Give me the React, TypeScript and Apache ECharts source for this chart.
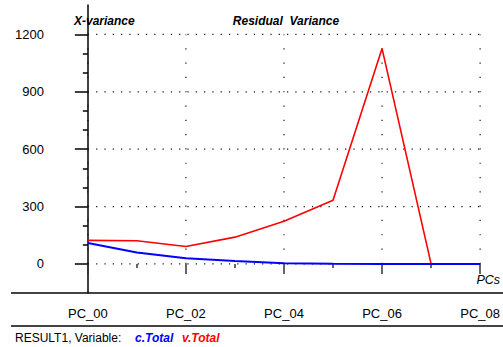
import React, { useEffect, useRef } from "react";
import * as echarts from "echarts";

const categories = ["PC_00", "PC_01", "PC_02", "PC_03", "PC_04", "PC_05", "PC_06", "PC_07", "PC_08"];
const cTotal = [109, 60, 30, 15, 4, 1, 0, 0, 0];
const vTotal = [123, 121, 91, 140, 223, 333, 1126, 0, 0];
const yMajorTicks = [0, 300, 600, 900, 1200];
const yMinorTicks = [100, 200, 400, 500, 700, 800, 1000, 1100];
const xMajorIdx = [0, 2, 4, 6, 8];
const xMinorIdx = [1, 3, 5, 7];

const FONT = "'Liberation Sans', Arial, sans-serif";

export default function App() {
  const ref = useRef<HTMLDivElement>(null);
  useEffect(() => {
    if (!ref.current) return;
    const chart = echarts.init(ref.current, null, { renderer: "svg" });
    const last = categories.length - 1;
    const gridSeries: any[] = [];
    yMajorTicks.forEach((v) => {
      gridSeries.push({
        type: "line", silent: true, symbol: "none", z: 1,
        data: [[0, v], [last, v]],
        lineStyle: { color: "#111", width: 1.2, type: [1.2, 7.1] },
      });
    });
    xMajorIdx.forEach((i) => {
      gridSeries.push({
        type: "line", silent: true, symbol: "none", z: 1,
        data: [[i, yMajorTicks[0]], [i, yMajorTicks[yMajorTicks.length - 1]]],
        lineStyle: { color: "#111", width: 1.2, type: [1.2, 13.1] },
      });
    });
    const yMin = -152, yMax = 1354;
    const xMin = -0.527, xMax = 8.405;
    chart.setOption({
      animation: false,
      grid: { left: 62, top: 5, right: 0, bottom: 54, containLabel: false },
      xAxis: [
        {
          type: "value", min: xMin, max: xMax, position: "bottom",
          axisLine: { show: false },
          axisTick: { show: true, customValues: xMajorIdx, length: 10, lineStyle: { color: "#333", width: 1.5 } },
          axisLabel: {
            show: true, customValues: xMajorIdx, margin: 14,
            formatter: (v: number) => categories[Math.round(v)],
            fontFamily: FONT, fontSize: 13, color: "#000",
          },
          splitLine: { show: false },
        },
        {
          type: "value", min: xMin, max: xMax, position: "bottom",
          axisLine: { show: false },
          axisTick: { show: true, customValues: xMinorIdx, length: 4, lineStyle: { color: "#333", width: 1.5 } },
          axisLabel: { show: false },
          splitLine: { show: false },
        },
      ],
      yAxis: [
        {
          type: "value", min: yMin, max: yMax, position: "left",
          axisLine: { show: true, lineStyle: { color: "#000", width: 1.5 } },
          axisTick: { show: true, customValues: yMajorTicks, length: 13, lineStyle: { color: "#000", width: 1.5 } },
          axisLabel: {
            show: true, customValues: yMajorTicks, margin: 18,
            formatter: (v: number) => String(v),
            fontFamily: FONT, fontSize: 13, color: "#000",
          },
          splitLine: { show: false },
        },
        {
          type: "value", min: yMin, max: yMax, position: "left",
          axisLine: { show: false },
          axisTick: { show: true, customValues: yMinorTicks, length: 5, lineStyle: { color: "#000", width: 1.5 } },
          axisLabel: { show: false },
          splitLine: { show: false },
        },
      ],
      series: [
        ...gridSeries,
        {
          name: "v.Total", type: "line", symbol: "none", z: 3,
          data: vTotal.map((v, i) => [i, v]),
          lineStyle: { color: "#ff0000", width: 1.6 },
        },
        {
          name: "c.Total", type: "line", symbol: "none", z: 4,
          data: cTotal.map((v, i) => [i, v]),
          lineStyle: { color: "#0000ff", width: 2 },
        },
      ],
      graphic: [
        { type: "line", shape: { x1: 11, y1: 293, x2: 503, y2: 293 }, style: { stroke: "#444", lineWidth: 2 } },
        { type: "line", shape: { x1: 11, y1: 326, x2: 503, y2: 326 }, style: { stroke: "#444", lineWidth: 2 } },
        {
          type: "text", x: 74, y: 21,
          style: { text: "X-variance", fontFamily: FONT, fontSize: 12, fontWeight: "bold", fontStyle: "italic", fill: "#000", verticalAlign: "middle" },
        },
        {
          type: "text", x: 286, y: 21,
          style: { text: "Residual  Variance", fontFamily: FONT, fontSize: 12, fontWeight: "bold", fontStyle: "italic", fill: "#000", align: "center", verticalAlign: "middle" },
        },
        {
          type: "text", x: 500, y: 280,
          style: { text: "PCs", fontFamily: FONT, fontSize: 12.5, fontStyle: "italic", fill: "#000", align: "right", verticalAlign: "middle" },
        },
        {
          type: "text", x: 15, y: 338,
          style: { text: "RESULT1, Variable:", fontFamily: FONT, fontSize: 12, fill: "#000", verticalAlign: "middle" },
        },
        {
          type: "text", x: 135, y: 338,
          style: { text: "c.Total", fontFamily: FONT, fontSize: 12, fontStyle: "italic", fontWeight: "bold", fill: "#0000ff", verticalAlign: "middle" },
        },
        {
          type: "text", x: 182, y: 338,
          style: { text: "v.Total", fontFamily: FONT, fontSize: 12, fontStyle: "italic", fontWeight: "bold", fill: "#ff0000", verticalAlign: "middle" },
        },
      ],
    });
    return () => chart.dispose();
  }, []);
  return <div ref={ref} style={{ width: 503, height: 347, position: "absolute", left: 0, top: 0, background: "#fff" }} />;
}
